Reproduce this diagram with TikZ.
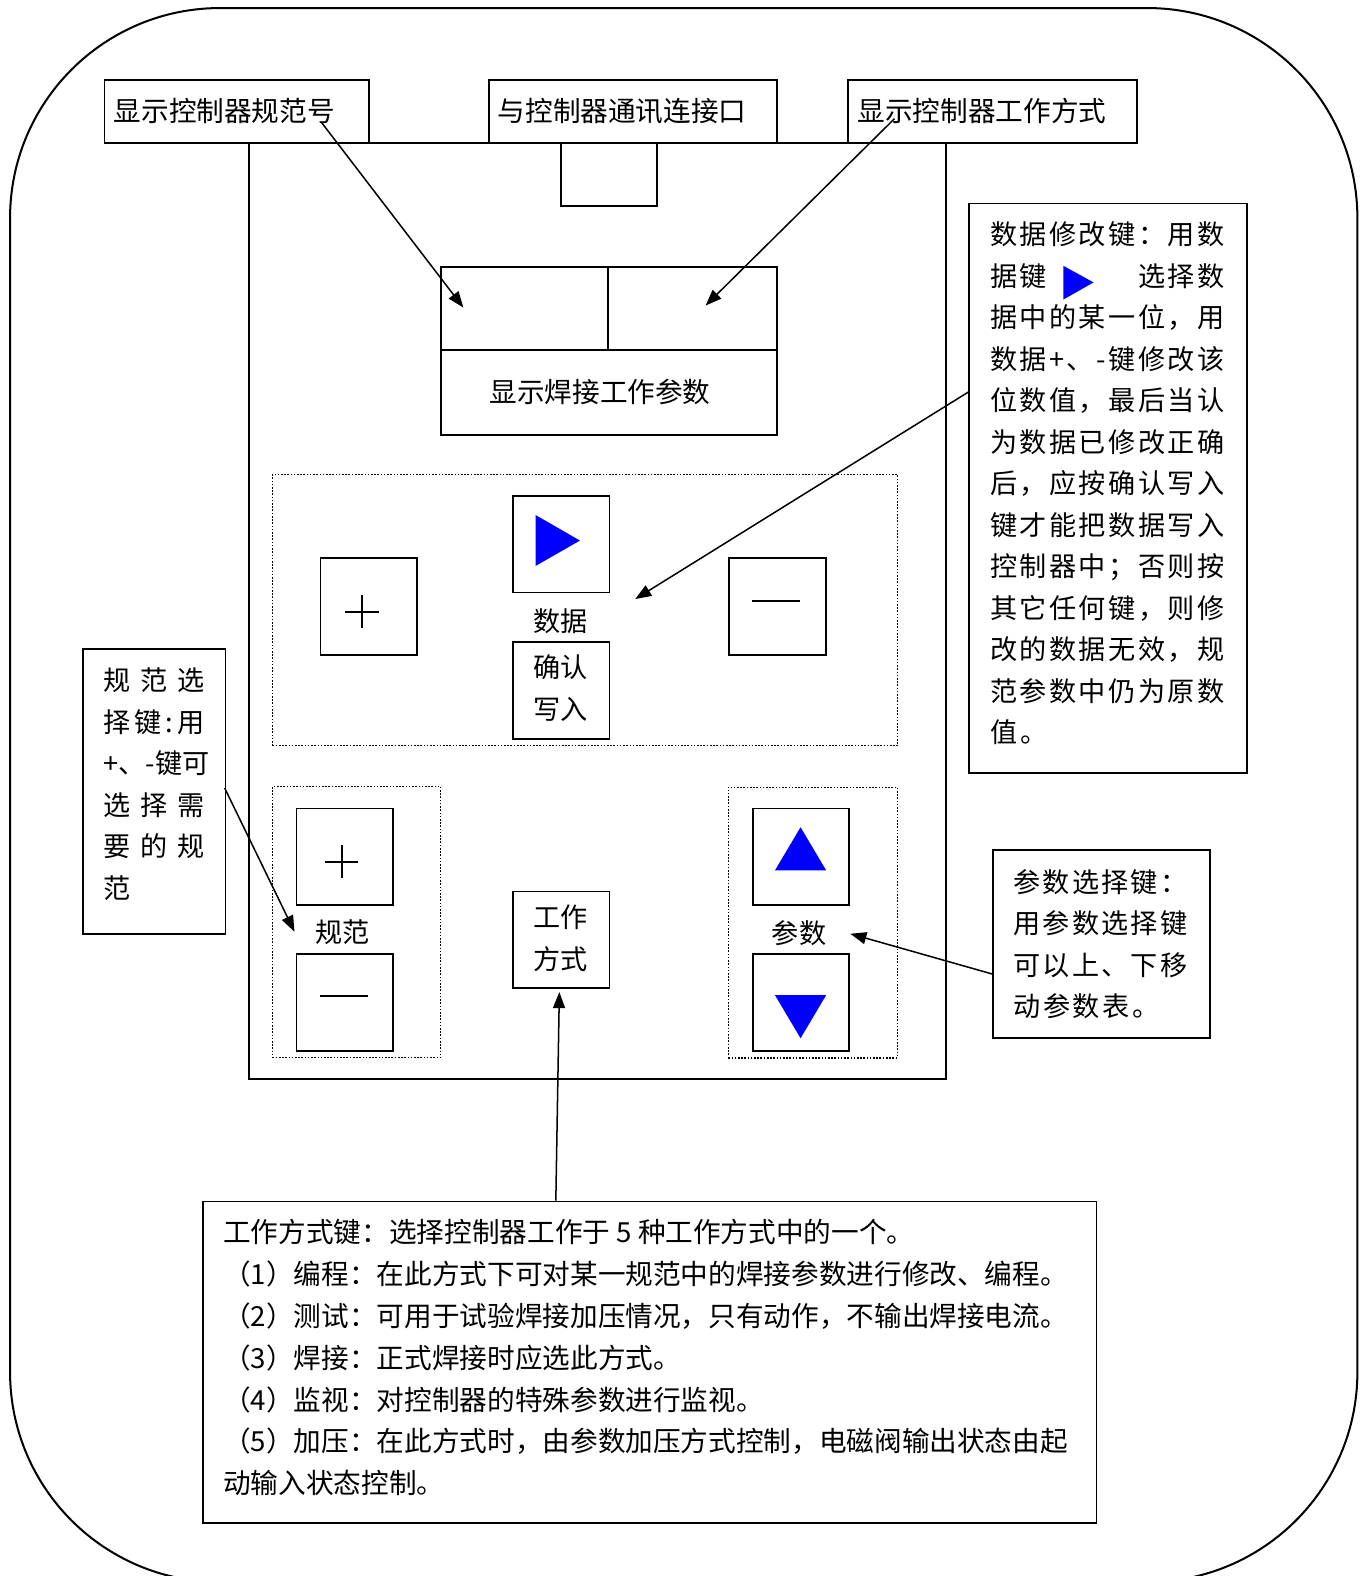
\documentclass[tikz,border=0pt]{standalone}
\usepackage{fontspec}
\setmainfont{Noto Sans CJK SC}
\usetikzlibrary{arrows.meta}
\newcommand\jline[2]{\makebox[#1][s]{\jfirst#2\relax}}
\def\jfirst#1{#1\jrest}
\def\jrest#1{\ifx#1\relax\else\hfil#1\expandafter\jrest\fi}
\newlength\pw
\newcommand\pline[2]{\setlength\pw{#1}\prest#2\relax}
\def\prest#1{\ifx#1\relax\else\makebox[\pw][l]{#1}\expandafter\prest\fi}
\newcommand\blk{\phantom{字}}
\newcommand\rowbox[1]{\hbox{#1}}
\newcommand\tlines[2]{\vtop{\baselineskip=#1\lineskiplimit=-100pt\lineskip=0pt #2}}
\begin{document}
\begin{tikzpicture}[x=1pt,y=-1pt,
  box/.style={draw, line width=1.8pt, inner sep=0pt, anchor=north west},
  dbox/.style={draw, line width=1.2pt, dash pattern=on 1.6pt off 1.6pt, inner sep=0pt, anchor=north west},
  key/.style={box, minimum width=96pt, minimum height=96pt},
  txt/.style={inner sep=0pt, anchor=base west, font=\fontsize{27}{41}\selectfont},
  ltxt/.style={inner sep=0pt, anchor=base west, font=\fontsize{27.5}{41}\selectfont},
  ctxt/.style={inner sep=0pt, anchor=base, font=\fontsize{27}{41}\selectfont},
  arr/.style={line width=1.5pt, -{Triangle[length=16pt,width=12pt]}},
  sign/.style={line width=2pt},
  divider/.style={line width=1.8pt}]
\useasboundingbox (0,0) rectangle (1355,1568);
\clip (0,0) rectangle (1355,1568);
% outer rounded frame
\draw[line width=2pt, rounded corners=209pt] (10,8) rectangle (1350.5,1574);

% panel
\node[box, minimum width=693.5pt, minimum height=932pt] (panel) at (246.5,141) {};

% top labels
\node[box, minimum width=263pt, minimum height=62pt] (lab1) at (103,79) {};
\node[ltxt] (lab1t) at (113,120.5) {显示控制器规范号};
\node[box, minimum width=287pt, minimum height=62pt] (lab2) at (485.5,79) {};
\node[ltxt] (lab2t) at (495,120.5) {与控制器通讯连接口};
\node[box, minimum width=287pt, minimum height=62pt] (lab3) at (843,79) {};
\node[ltxt] (lab3t) at (853,120.5) {显示控制器工作方式};

% port and display
\node[box, minimum width=96pt, minimum height=63pt] (port) at (557,141) {};
\node[box, minimum width=334.5pt, minimum height=167pt] (disp) at (437.5,265) {};
\draw[divider] (437.5,348) -- (772,348);
\draw[divider] (605,265) -- (605,348);
\node[ctxt, font=\fontsize{27.5}{41}\selectfont] (dispt) at (597,400) {显示焊接工作参数};

% group A (data)
\node[dbox, minimum width=622pt, minimum height=270pt] (grpA) at (270.5,471.5) {};
\node[key] (kplus) at (318,554.5) {};
\node[key] (kdata) at (509.5,492.5) {};
\node[key] (kok) at (509.5,638) {};
\node[key] (kminus) at (724.5,554.5) {};
\draw[sign] (343,608.5) -- (377,608.5) (360,592) -- (360,625);
\fill[blue] (533,512.5) -- (533,563) -- (577,537.8) -- cycle;
\draw[sign] (748,597.5) -- (796,597.5);
\node[ctxt] (ldata) at (557.5,628) {数据};
\node[ctxt] (lok1) at (557.5,674) {确认};
\node[ctxt] (lok2) at (557.5,715.5) {写入};

% group B (spec)
\node[dbox, minimum width=167.5pt, minimum height=269.5pt] (grpB) at (270.5,782) {};
\node[key] (kbplus) at (294,803.5) {};
\node[key] (kbminus) at (294,948.5) {};
\draw[sign] (323,857.5) -- (356.5,857.5) (340,841) -- (340,874);
\draw[sign] (318,990.5) -- (366,990.5);
\node[ctxt] (lspec) at (341,938) {规范};

% mode key
\node[key] (kmode) at (509.5,886) {};
\node[ctxt] (lmode1) at (557.5,922.5) {工作};
\node[ctxt] (lmode2) at (557.5,964.5) {方式};

% group C (param)
\node[dbox, minimum width=168pt, minimum height=269.5pt] (grpC) at (724,782.5) {};
\node[key] (kup) at (748,803.5) {};
\node[key] (kdown) at (748,948.5) {};
\fill[blue] (771,866) -- (822,866) -- (796.5,823) -- cycle;
\fill[blue] (771,990) -- (822,990) -- (796.5,1033) -- cycle;
\node[ctxt] (lparam) at (795,939) {参数};

% right description box
\node[box, minimum width=276pt, minimum height=567pt] (rbox) at (963.5,201.5) {};
\node[txt] (rboxt) at (985,243.5) {\tlines{41.3pt}{%
  \rowbox{\jline{233pt}{数据修改键：用数}}
  \rowbox{\jline{233pt}{据键\blk \blk \blk 选择数}}
  \rowbox{\jline{233pt}{据中的某一位，用}}
  \rowbox{\jline{233pt}{数据+、-键修改该}}
  \rowbox{\jline{233pt}{位数值，最后当认}}
  \rowbox{\jline{233pt}{为数据已修改正确}}
  \rowbox{\jline{233pt}{后，应按确认写入}}
  \rowbox{\jline{233pt}{键才能把数据写入}}
  \rowbox{\jline{233pt}{控制器中；否则按}}
  \rowbox{\jline{233pt}{其它任何键，则修}}
  \rowbox{\jline{233pt}{改的数据无效，规}}
  \rowbox{\jline{233pt}{范参数中仍为原数}}
  \rowbox{\pline{29.7pt}{值。}}}};
\fill[blue] (1058,264.5) -- (1058,298) -- (1088,281) -- cycle;

% left description box
\node[box, minimum width=142pt, minimum height=284pt] (lbox) at (81.5,644.5) {};
\node[txt] (lboxt) at (103,687) {\tlines{41.4pt}{%
  \rowbox{\jline{100pt}{规范选}}
  \rowbox{\jline{100pt}{择键:用}}
  \rowbox{\jline{100pt}{+、-键可}}
  \rowbox{\jline{100pt}{选择需}}
  \rowbox{\jline{100pt}{要的规}}
  \rowbox{范}}};

% param description box
\node[box, minimum width=216pt, minimum height=186.5pt] (pbox) at (987,845) {};
\node[txt] (pboxt) at (1008,887.5) {\tlines{41.3pt}{%
  \rowbox{\jline{173pt}{参数选择键：}}
  \rowbox{\jline{173pt}{用参数选择键}}
  \rowbox{\jline{173pt}{可以上、下移}}
  \rowbox{\pline{29.6pt}{动参数表。}}}};

% bottom notes box
\node[box, minimum width=889pt, minimum height=320pt] (notes) at (201,1194.5) {};
\node[ltxt] (notest) at (222,1236.5) {\tlines{41.6pt}{%
  \rowbox{工作方式键：选择控制器工作于 5 种工作方式中的一个。}
  \rowbox{（1）编程：在此方式下可对某一规范中的焊接参数进行修改、编程。}
  \rowbox{（2）测试：可用于试验焊接加压情况，只有动作，不输出焊接电流。}
  \rowbox{（3）焊接：正式焊接时应选此方式。}
  \rowbox{（4）监视：对控制器的特殊参数进行监视。}
  \rowbox{（5）加压：在此方式时，由参数加压方式控制，电磁阀输出状态由起}
  \rowbox{动输入状态控制。}}};

% connectors
\coordinate (a1s) at (320,122);
\coordinate (a1e) at (461,306);
\coordinate (a2s) at (890,118);
\coordinate (a2e) at (702,304);
\coordinate (a3s) at (963.5,390);
\coordinate (a3e) at (632,596);
\coordinate (a4s) at (223.5,784);
\coordinate (a4e) at (293,927);
\coordinate (a5s) at (987,969);
\coordinate (a5e) at (846,929);
\coordinate (a6s) at (553,1194.5);
\coordinate (a6e) at (556.5,987);
\draw[arr] (a1s) -- (a1e);
\draw[arr] (a2s) -- (a2e);
\draw[arr] (a3s) -- (a3e);
\draw[arr] (a4s) -- (a4e);
\draw[arr] (a5s) -- (a5e);
\draw[arr] (a6s) -- (a6e);
\end{tikzpicture}
\end{document}
